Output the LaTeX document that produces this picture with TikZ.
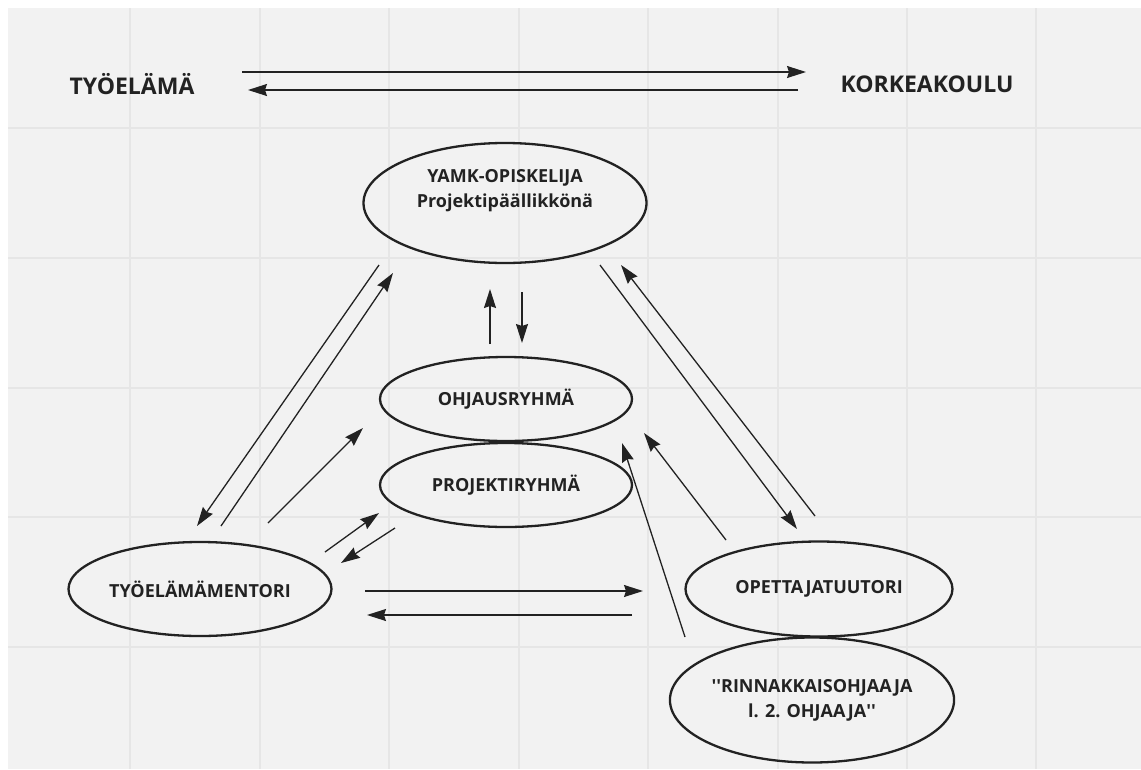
\documentclass[tikz,border=0pt]{standalone}
\usepackage{fontspec}
\setmainfont{Open Sans}
\usetikzlibrary{arrows.meta,shapes.geometric}
\definecolor{board}{HTML}{F2F2F2}
\definecolor{gridc}{HTML}{E6E6E6}
\definecolor{ink}{HTML}{222222}
% straight apostrophe glyph, untouched by the TeX ligature mapping
\newcommand{\sq}{\XeTeXglyph\XeTeXcharglyph"0027\relax}
\begin{document}
\begin{tikzpicture}[x=1pt,y=-1pt,
  role/.style={ellipse, draw=ink, line width=2.3pt, align=center,
    font=\fontsize{18}{25}\selectfont\bfseries, text=ink, inner sep=0pt},
  heading/.style={font=\fontsize{23}{26}\selectfont\bfseries, text=ink},
  link/.style={draw=ink, line width=1.3pt, -{Stealth[length=19pt,width=12pt,inset=2pt]}}]
\useasboundingbox (0,0) rectangle (1141,769);
% board and grid
\fill[white] (0,0) rectangle (1141,769);
\fill[board] (8,8) rectangle (1141,769);
\foreach \gx in {130,260,389,519,648,778,907,1036}
  \draw[gridc, line width=1.6pt] (\gx,8) -- (\gx,769);
\foreach \gy in {128,258,388,517,647}
  \draw[gridc, line width=1.6pt] (8,\gy) -- (1141,\gy);

% headings
\node[heading] (tyoelama) at (132,84) {TYÖELÄMÄ};
\node[heading] (korkeakoulu) at (927,84) {KORKEAKOULU};

% roles
\node[role, minimum width=283pt, minimum height=120pt] (yamk) at (505,203) {};
\node[font=\fontsize{18}{25}\selectfont\bfseries, text=ink, align=center] (yamktext) at (505,191) {YAMK-OPISKELIJA\\Projektipäällikkönä};
\node[role, minimum width=252pt, minimum height=84pt] (ohjaus) at (506,399) {OHJAUSRYHMÄ};
\node[role, minimum width=252pt, minimum height=84pt] (projekti) at (506,485) {PROJEKTIRYHMÄ};
\node[role, minimum width=263pt, minimum height=94pt] (mentori) at (200,589) {TYÖELÄMÄMENTORI};
\node[role, minimum width=267pt, minimum height=95pt] (tuutori) at (819,589) {OPETTAJATUUTORI};
\node[role, minimum width=284pt, minimum height=125pt] (rinnakkais) at (812,700) {\sq\sq RINNAKKAISOHJAAJA\\l. 2. OHJAAJA\sq\sq};

% connector ends
\coordinate (t1) at (242,72);  \coordinate (k1) at (806,72);
\coordinate (k2) at (798,90);  \coordinate (t2) at (248,90);
\coordinate (a1) at (379,265); \coordinate (a2) at (197,526);
\coordinate (b1) at (221,526); \coordinate (b2) at (393,273);
\coordinate (c1) at (268,523); \coordinate (c2) at (363,428);
\coordinate (d1) at (325,552); \coordinate (d2) at (379,513);
\coordinate (e1) at (395,528); \coordinate (e2) at (341,563);
\coordinate (u1) at (490,344); \coordinate (u2) at (490,289);
\coordinate (v1) at (522,292); \coordinate (v2) at (522,343);
\coordinate (f1) at (600,265); \coordinate (f2) at (797,529);
\coordinate (g1) at (815,516); \coordinate (g2) at (621,265);
\coordinate (h1) at (726,540); \coordinate (h2) at (644,433);
\coordinate (i1) at (685,637); \coordinate (i2) at (622,443);
\coordinate (m1) at (365,591); \coordinate (m2) at (643,591);
\coordinate (n1) at (632,615); \coordinate (n2) at (367,615);

% connectors
\draw[link] (t1) -- (k1);
\draw[link] (k2) -- (t2);
\draw[link] (a1) -- (a2);
\draw[link] (b1) -- (b2);
\draw[link] (c1) -- (c2);
\draw[link] (d1) -- (d2);
\draw[link] (e1) -- (e2);
\draw[link] (u1) -- (u2);
\draw[link] (v1) -- (v2);
\draw[link] (f1) -- (f2);
\draw[link] (g1) -- (g2);
\draw[link] (h1) -- (h2);
\draw[link] (i1) -- (i2);
\draw[link] (m1) -- (m2);
\draw[link] (n1) -- (n2);
\end{tikzpicture}
\end{document}
